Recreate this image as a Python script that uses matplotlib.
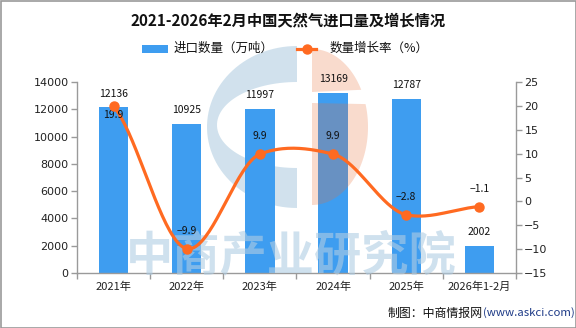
import numpy as np
import matplotlib
matplotlib.use('Agg')
import matplotlib.pyplot as plt
from matplotlib.patches import Polygon, Rectangle
from matplotlib.lines import Line2D

plt.rcParams['font.family'] = ['Noto Sans CJK SC', 'DejaVu Sans']

# ---------------- data ----------------
categories = ['2021年', '2022年', '2023年', '2024年', '2025年', '2026年1-2月']
import_volume = [12136, 10925, 11997, 13169, 12787, 2002]
growth_rate = [19.9, -9.9, 9.9, 9.9, -2.8, -1.1]
left_ticks = [0, 2000, 4000, 6000, 8000, 10000, 12000, 14000]
right_ticks = [-15, -10, -5, 0, 5, 10, 15, 20, 25]

title = '2021-2026年2月中国天然气进口量及增长情况'
legend_bar = '进口数量（万吨）'
legend_line = '数量增长率（%）'
watermark = '中商产业研究院'
source_a = '制图：中商情报网'
source_b = '(www.askci.com)'

BAR_C = '#3E9DF0'
LINE_C = '#FF6A21'
AX_C = '#9a9a9a'

W, H = 576, 328
fig = plt.figure(figsize=(W / 100, H / 100), dpi=100)
fig.patch.set_facecolor('white')

# pixel-coordinate overlays (y downward)
def overlay(z):
    o = fig.add_axes([0, 0, 1, 1], zorder=z)
    o.set_xlim(0, W)
    o.set_ylim(H, 0)
    o.axis('off')
    return o

ov_back = overlay(0)
L, R, T, B = 77, 516, 82, 273
ax = fig.add_axes([L / W, 1 - B / H, (R - L) / W, (B - T) / H], zorder=1)
ax.patch.set_visible(False)
ov_front = overlay(2)
ax2 = ax.twinx()
ax2.set_zorder(3)
ax2.patch.set_visible(False)

# ---------------- logo watermark ----------------
th = np.linspace(np.pi / 2, 3 * np.pi / 2, 60)
cx, cy = 297, 127
outer = np.c_[cx + 90 * np.cos(th), cy - 81 * np.sin(th)]
hole = np.c_[cx + 80 * np.cos(th[::-1]), (cy - 2) - 43 * np.sin(th[::-1])]
cpoly = np.vstack([outer, [[cx, cy + 81]], [[cx, cy - 2 + 43]], hole, [[cx, cy - 2 - 43]]])
ov_back.add_patch(Polygon(cpoly, closed=True, fc='#5a96c0', alpha=0.28, ec='none'))

ox, oy, oa, ob = 312, 127, 56, 78
tt = np.linspace(-np.pi / 2, np.pi / 2, 80)
px = ox + oa * np.cos(tt)
py = oy - ob * np.sin(tt)
# lower part (below gap) and upper part (above gap)
gap_top, gap_bot = 92, 103
low = py >= gap_bot
up = py <= gap_top
lowpoly = np.vstack([[[ox, oy + ob]], np.c_[px[low], py[low]], [[ox, gap_bot]]])
uppoly = np.vstack([[[ox, gap_top]], np.c_[px[up], py[up]], [[ox, oy - ob]]])
for pp in (lowpoly, uppoly):
    ov_front.add_patch(Polygon(pp, closed=True, fc='#e8703a', alpha=0.25, ec='none'))

ov_front.text(291, 256, watermark, fontsize=34, fontweight='bold', color='#b0cde3',
              alpha=0.6, ha='center', va='center')

# ---------------- bars ----------------
x = np.arange(len(categories))
ax.bar(x, import_volume, width=0.4, color=BAR_C, zorder=2)
ax.set_xlim(-0.5, len(categories) - 0.5)
ax.set_ylim(left_ticks[0], left_ticks[-1])
ax.set_yticks(left_ticks)
ax.set_yticklabels([str(v) for v in left_ticks], family='DejaVu Sans', fontsize=8, color='#222')
ax.set_xticks(x)
ax.set_xticklabels(categories, fontsize=8, color='#222')
ax.set_xticks(np.arange(-0.5, len(categories), 1), minor=True)
ax.tick_params(axis='x', which='major', length=0, pad=6)
ax.tick_params(axis='x', which='minor', length=4, color=AX_C, width=1)
ax.tick_params(axis='y', length=4, color=AX_C, width=1, pad=2)
for s in ('top', 'right'):
    ax.spines[s].set_visible(False)
for s in ('left', 'bottom'):
    ax.spines[s].set_color(AX_C)
    ax.spines[s].set_linewidth(1)

# ---------------- line ----------------
y = np.array(growth_rate, dtype=float)
n = len(y)
s = 0.6
m = np.empty(n)
m[1:-1] = s * (y[2:] - y[:-2]) / 2
m[0] = s * (y[1] - y[0])
m[-1] = s * (y[-1] - y[-2])
t = np.linspace(0, 1, 40)
h00 = 2 * t**3 - 3 * t**2 + 1
h10 = t**3 - 2 * t**2 + t
h01 = -2 * t**3 + 3 * t**2
h11 = t**3 - t**2
xs, ys = [], []
for i in range(n - 1):
    xs.append(x[i] + t)
    ys.append(h00 * y[i] + h10 * m[i] + h01 * y[i + 1] + h11 * m[i + 1])
xs = np.concatenate(xs)
ys = np.concatenate(ys)
ax2.plot(xs, ys, color=LINE_C, lw=2.3, solid_capstyle='round', zorder=3)
ax2.plot(x, y, 'o', color=LINE_C, ms=6.5, zorder=4)
ax2.set_ylim(right_ticks[0], right_ticks[-1])
ax2.set_yticks(right_ticks)
ax2.set_yticklabels([str(v).replace('-', '\u2212') for v in right_ticks],
                    family='DejaVu Sans', fontsize=8, color='#222')
ax2.tick_params(axis='y', length=4, color=AX_C, width=1, pad=2)
for s_ in ('top', 'left', 'bottom'):
    ax2.spines[s_].set_visible(False)
ax2.spines['right'].set_color(AX_C)
ax2.spines['right'].set_linewidth(1)

# ---------------- value labels ----------------
for i, v in enumerate(import_volume):
    ax2.annotate(str(v), (x[i], v), xycoords=ax.transData, xytext=(0, 10),
                 textcoords='offset points', ha='center', va='center',
                 fontsize=7.5, color='#111')
for i, v in enumerate(growth_rate):
    off = -6.5 if i == 0 else 13
    ax2.annotate(f'{v}'.replace('-', '\u2212'), (x[i], v), xytext=(0, off),
                 textcoords='offset points', ha='center', va='center',
                 fontsize=7.5, color='#111')

# ---------------- title / legend / source ----------------
ov_front.text(288, 20, title, fontsize=11, fontweight='bold', ha='center', va='center', color='#111')
ov_front.add_patch(Rectangle((142, 44.5), 26, 8, fc=BAR_C, ec='none'))
ov_front.text(174, 48.5, legend_bar, fontsize=9, ha='left', va='center', color='#111')
ov_front.add_line(Line2D([297, 316], [48.5, 48.5], color=LINE_C, lw=2.3))
ov_front.add_line(Line2D([306.5], [48.5], marker='o', color=LINE_C, ms=6.5))
ov_front.text(330, 48.5, legend_line, fontsize=9, ha='left', va='center', color='#111')

t1 = ov_front.text(483, 313, source_a, fontsize=8.6, ha='right', va='center', color='#111')
ov_front.text(483, 313, source_b, fontsize=8.2, ha='left', va='center', color='#1f3c88')

ov_front.add_patch(Rectangle((0.5, 0.5), W - 1, H - 1, fill=False, ec='#999999', lw=1.2))

fig.savefig('out.png', dpi=100, facecolor='white')
